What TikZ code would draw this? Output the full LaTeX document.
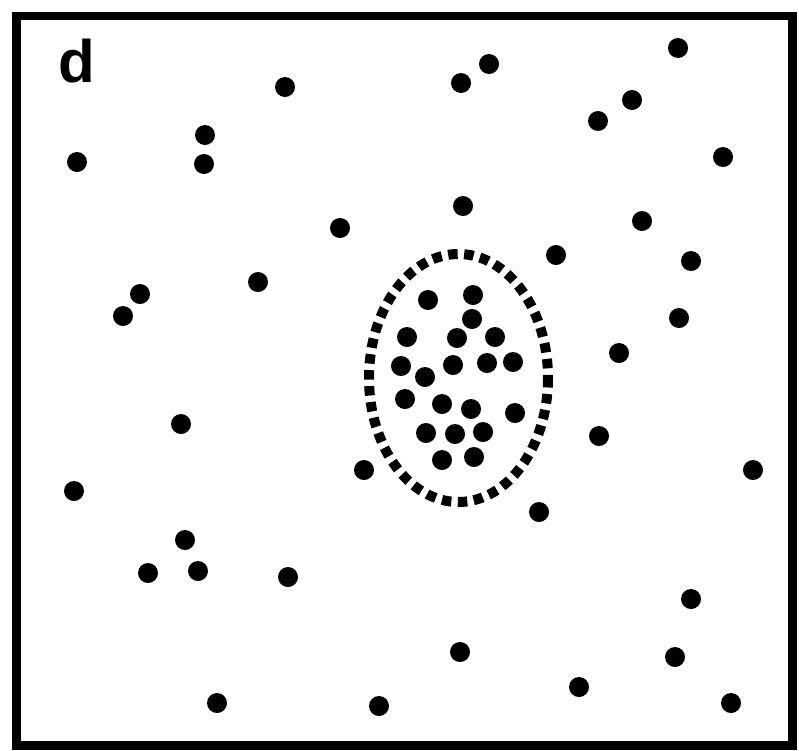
\documentclass[tikz,border=0pt]{standalone}
\usepackage{fontspec}
\setmainfont{Liberation Sans}
\begin{document}
\begin{tikzpicture}[x=1pt,y=-1pt,
  dot/.style={fill=black},
  frame/.style={draw=black,line width=8.5pt},
  cluster/.style={draw=black,line width=10pt,dash pattern=on 9.5pt off 6.5pt}]
\useasboundingbox (0,0) rectangle (799,750);
\draw[frame] (16.5,16) rectangle (792.5,745.5);
\node[font=\bfseries\fontsize{60}{62}\selectfont,inner sep=0pt] (label) at (77,61) {d};
\foreach \x/\y in {678/48,489/64,461/83,285/87,632/100,598/121,205/135,77/162,204/164,723/157,
  463/206,642/221,340/228,556/255,691/261,258/282,140/294,123/316,679/318,619/353,
  181/424,599/436,753/470,364/470,74/491,539/512,185/540,148/573,198/571,288/577,
  691/599,460/652,675/657,579/687,217/703,379/706,731/703,
  428/300,473/295,472/319,407/337,457/338,495/337,401/366,453/365,487/363,513/362,
  425/377,405/399,442/404,471/409,515/413,426/433,455/434,483/432,442/460,474/457}
  \fill[dot] (\x,\y) circle (10);
\draw[cluster] (458.5,378) ellipse (89.5 and 124);
\end{tikzpicture}
\end{document}
